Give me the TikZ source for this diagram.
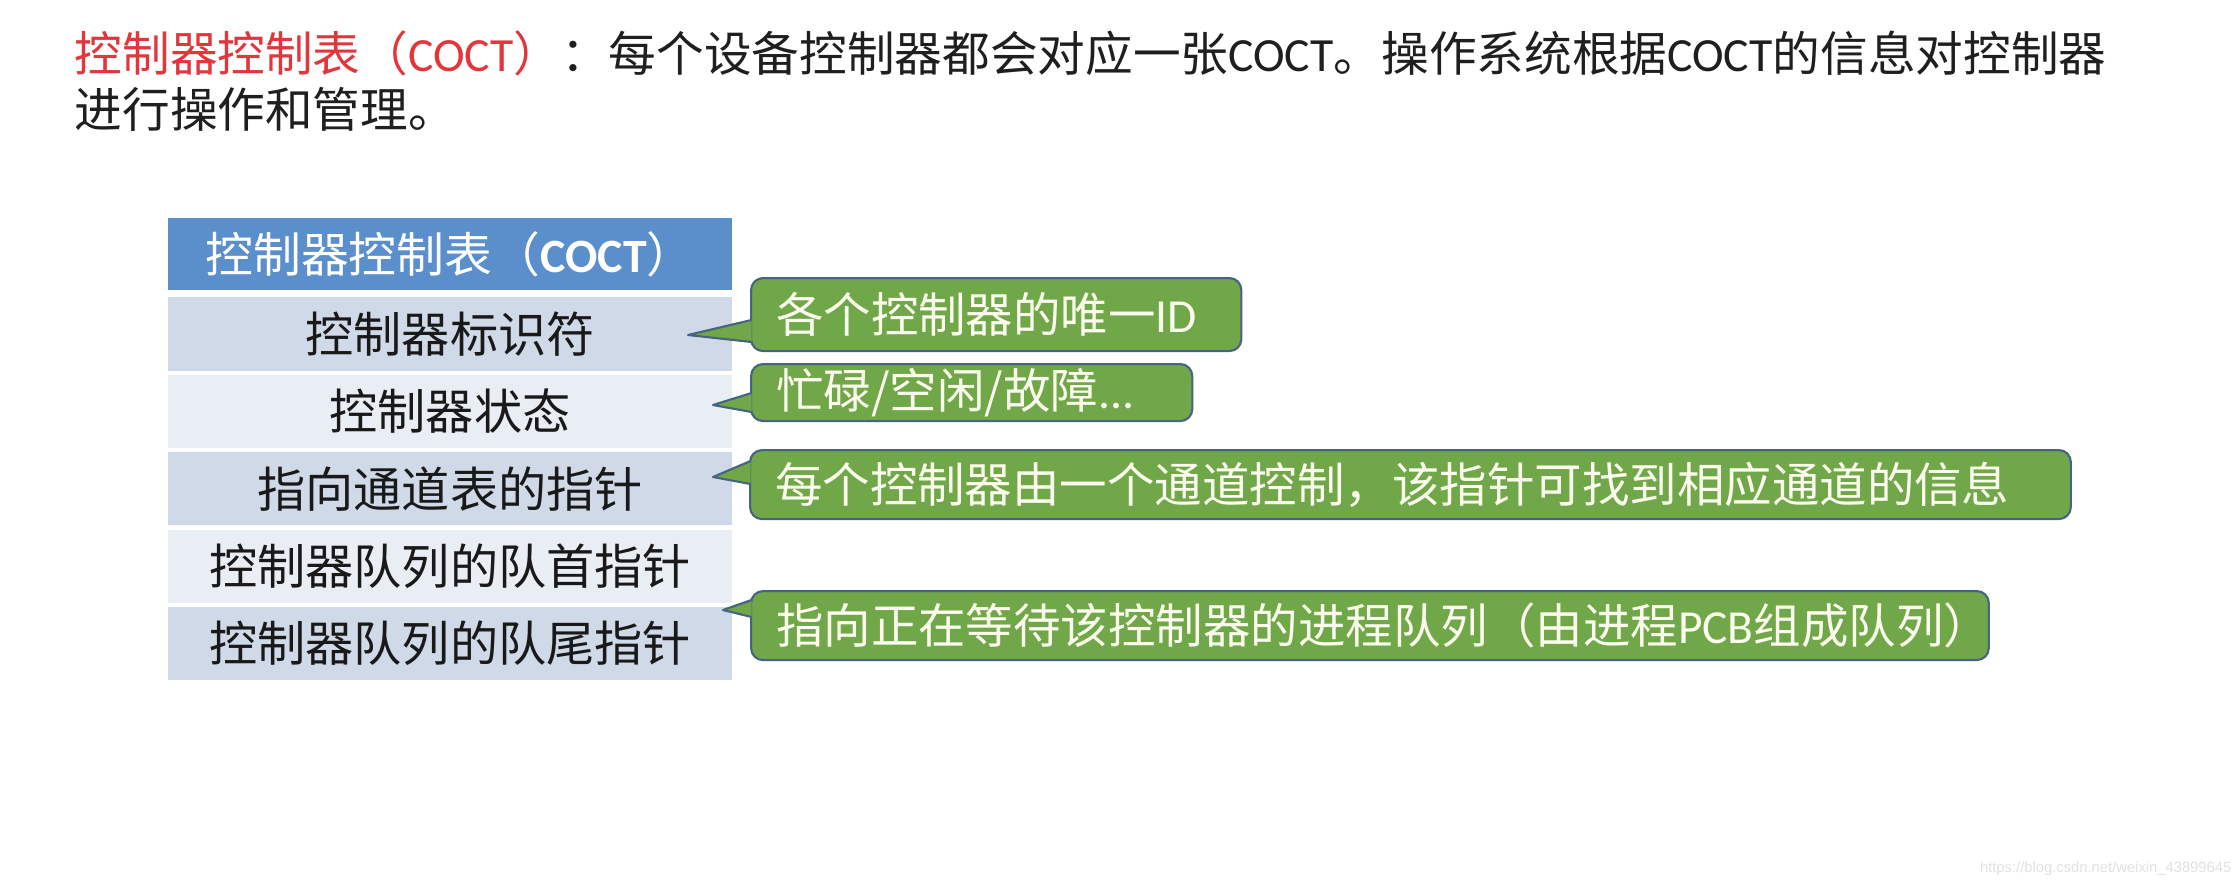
\documentclass[tikz,border=0pt]{standalone}
\usepackage{fontspec}
\setmainfont{Noto Sans CJK SC}
\newfontfamily\latinfont{Carlito}
\newfontfamily\webfont{Liberation Sans}
\usetikzlibrary{calc,positioning}
\definecolor{TitleRed}{RGB}{226,54,60}
\definecolor{HeadBlue}{RGB}{91,143,204}
\definecolor{BandDark}{RGB}{208,217,232}
\definecolor{BandLight}{RGB}{233,237,244}
\definecolor{NoteGreen}{RGB}{112,167,72}
\definecolor{NoteEdge}{RGB}{70,100,128}
\definecolor{NoteText}{RGB}{252,252,238}
\definecolor{MarkGray}{RGB}{226,226,226}
\newcommand{\lat}[1]{{\latinfont #1}}

\begin{document}
\begin{tikzpicture}[x=0.01cm,y=-0.01cm,
  title/.style={anchor=west,inner sep=0pt,font=\fontsize{13.55}{16}\selectfont,text=black!88},
  head/.style={fill=HeadBlue,text=white,minimum width=5.64cm,minimum height=0.72cm,inner sep=0pt,font=\fontsize{13.6}{16}\selectfont},
  row/.style={minimum width=5.64cm,minimum height=0.73cm,inner sep=0pt,font=\fontsize{13.7}{16}\selectfont,text=black!90},
  note/.style={anchor=north west,fill=NoteGreen,draw=NoteEdge,line width=0.6pt,rounded corners=0.12cm,inner xsep=0.25cm,inner ysep=0pt,align=left,text=NoteText,font=\fontsize{13.5}{16}\selectfont},
  tail/.style={fill=NoteGreen,draw=NoteEdge,line width=0.6pt,line join=round}]
\useasboundingbox (0,0) rectangle (2240,888);
\fill[white] (0,0) rectangle (2240,888);

% title lines
\node[title] (t1) at (74,53) {{\color{TitleRed}控制器控制表（\lat{COCT}）}：每个设备控制器都会对应一张\lat{COCT}。操作系统根据\lat{COCT}的信息对控制器};
\node[title] (t2) at (74,109) {进行操作和管理。};

% the table
\node[head] (head) at (450,254) {控制器控制表（\lat{\bfseries COCT}）};
\foreach \i/\txt/\col in {1/控制器标识符/BandDark,2/控制器状态/BandLight,3/指向通道表的指针/BandDark,4/控制器队列的队首指针/BandLight,5/控制器队列的队尾指针/BandDark}
  \node[row,fill=\col] (r\i) at (450,{334+(\i-1)*77.4}) {\txt};

% callouts
\node[note,text width=4.40cm,minimum height=0.73cm] (c1) at (750,277) {各个控制器的唯一\lat{ID}};
\node[note,text width=3.91cm,minimum height=0.57cm] (c2) at (750,363) {忙碌/空闲/故障\lat{...}};
\node[note,text width=12.70cm,minimum height=0.69cm] (c3) at (749,449) {每个控制器由一个通道控制，该指针可找到相应通道的信息};
\node[note,text width=11.87cm,minimum height=0.69cm] (c4) at (750,590) {指向正在等待该控制器的进程队列（由进程\lat{PCB}组成队列）};
\coordinate (p1) at (688,335);
\coordinate (p2) at (713,405);
\coordinate (p3) at (713,477);
\coordinate (p4) at (723,610);
\foreach \n/\a/\b in {1/43/65,2/30/49,3/12/35,4/10/27}
  \path[tail] ($(c\n.north west)+(1.5,\a)$) -- (p\n) -- ($(c\n.north west)+(1.5,\b)$);

\node[anchor=east,inner sep=0pt,font=\webfont\fontsize{4.2}{5}\selectfont,text=MarkGray] (mark) at (2232,869) {https://blog.csdn.net/weixin\_43899645};
\end{tikzpicture}
\end{document}
